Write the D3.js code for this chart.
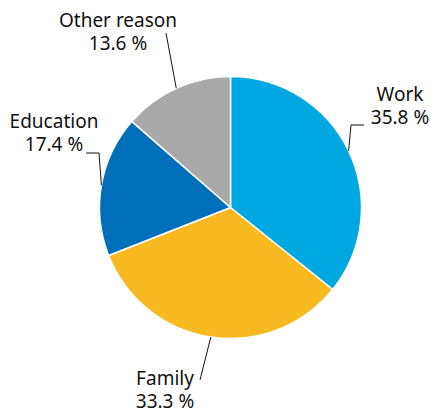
<!DOCTYPE html>
<html>
<head>
<meta charset="utf-8">
<script src="https://cdn.jsdelivr.net/npm/d3@7"></script>
<style>
  body { margin: 0; background: #fff; }
  svg { display: block; }
  text { font-family: "Noto Sans", "Open Sans", sans-serif; fill: #111; }
</style>
</head>
<body>
<div id="wrapper"></div>
<script>
// data
const categories = ["Work", "Family", "Education", "Other reason"]
const shares = [35.8, 33.3, 17.4, 13.6]
const colors = ["#00a8e1", "#f9b920", "#006fba", "#a9a9a9"]

// where each label goes (leader line bend / end, text anchor point)
const labelLayout = [
  { bend: [351, 125], end: [364, 125], tx: 400, ty: 101 },
  { bend: null,       end: [200, 380], tx: 165, ty: 385 },
  { bend: [99, 153],  end: [86, 153],  tx: 54,  ty: 128 },
  { bend: null,       end: [166, 33],  tx: 118, ty: 27 },
]

const dimensions = { width: 431, height: 412 }
const cx = 230.5, cy = 207.5, radius = 131

const svg = d3.select("#wrapper").append("svg")
  .attr("width", dimensions.width)
  .attr("height", dimensions.height)

const dataset = categories.map((c, i) => ({ name: c, value: shares[i], color: colors[i], layout: labelLayout[i] }))

const pieGen = d3.pie().value(d => d.value).sort(null)
const arcs = pieGen(dataset)
const arcGen = d3.arc().innerRadius(0).outerRadius(radius)

const bounds = svg.append("g").attr("transform", `translate(${cx},${cy})`)

bounds.selectAll("path")
  .data(arcs)
  .join("path")
  .attr("d", arcGen)
  .attr("fill", d => d.data.color)
  .attr("stroke", "#fff")
  .attr("stroke-width", 1.5)
  .attr("stroke-linejoin", "round")

// leader lines
svg.append("g").selectAll("polyline")
  .data(arcs)
  .join("polyline")
  .attr("points", d => {
    const a = (d.startAngle + d.endAngle) / 2
    const start = [cx + radius * Math.sin(a), cy - radius * Math.cos(a)]
    const pts = [start]
    if (d.data.layout.bend) pts.push(d.data.layout.bend)
    pts.push(d.data.layout.end)
    return pts.map(p => p.join(",")).join(" ")
  })
  .attr("fill", "none")
  .attr("stroke", "#111")
  .attr("stroke-width", 1)

// labels
const labels = svg.append("g").selectAll("text")
  .data(arcs)
  .join("text")
  .attr("x", d => d.data.layout.tx)
  .attr("y", d => d.data.layout.ty)
  .attr("text-anchor", "middle")
  .attr("font-size", "19px")

labels.append("tspan")
  .text(d => d.data.name)
labels.append("tspan")
  .attr("x", d => d.data.layout.tx)
  .attr("dy", 23)
  .text(d => d3.format(".1f")(d.data.value) + " %")
</script>
</body>
</html>
